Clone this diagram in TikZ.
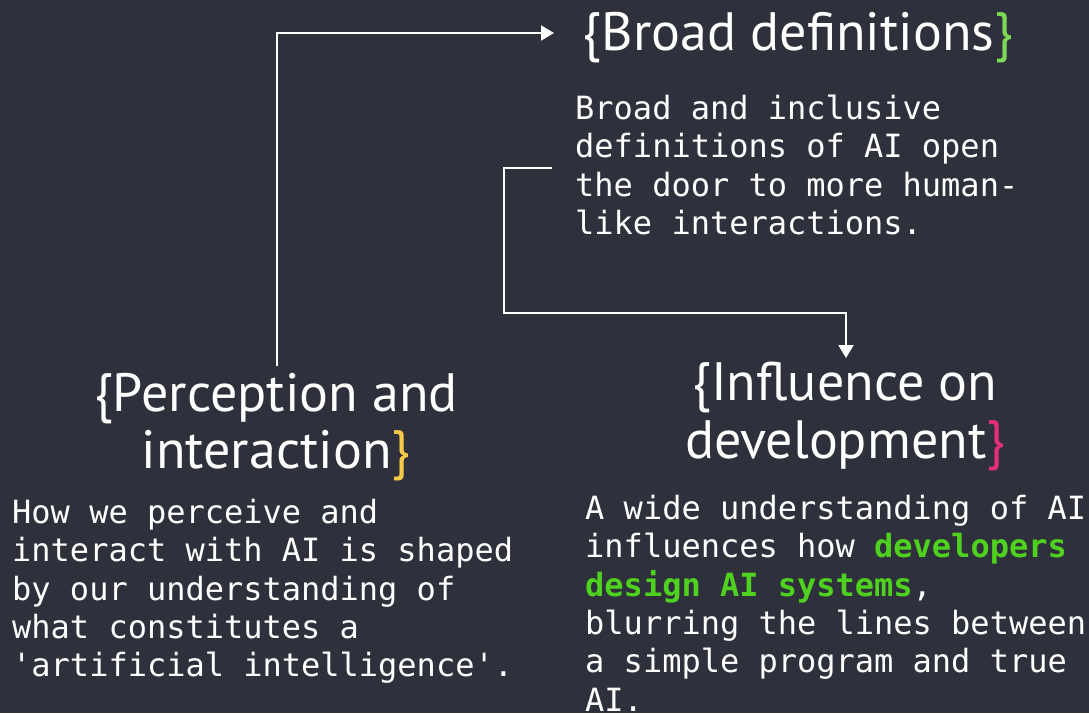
\documentclass[tikz,border=0pt]{standalone}
\usepackage{fontspec}
\setmainfont{PT Sans}
\setmonofont{DejaVu Sans Mono}
\usetikzlibrary{arrows.meta}
\definecolor{bg}{HTML}{2E313B}
\definecolor{fg}{HTML}{FFFFFF}
\definecolor{bgreen}{HTML}{7ED957}
\definecolor{hgreen}{HTML}{4FD11F}
\definecolor{byellow}{HTML}{F7C948}
\definecolor{bpink}{HTML}{E62E7B}
\tikzset{
  titletext/.style={text=fg, inner sep=0pt, align=center, font=\fontsize{54}{57.5}\selectfont},
  bodytext/.style={text=fg, inner sep=0pt, align=left, font=\fontsize{32}{38.3}\selectfont\ttfamily},
  link/.style={draw=fg, line width=2pt, -{Triangle[length=13pt,width=15pt]}}
}
\begin{document}
\begin{tikzpicture}[x=1pt,y=-1pt]
\fill[bg] (0,0) rectangle (1089,713);
\useasboundingbox (0,0) rectangle (1089,713);

\node[titletext, anchor=base] (broad) at (798,50) {\{Broad definitions\textcolor{bgreen}{\}}};
\node[bodytext, anchor=north west] (broadbody) at (575,95) {Broad and inclusive\\definitions of AI open\\the door to more human-\\like interactions.};

\node[titletext, anchor=north] (perc) at (276,373) {\{Perception and\\interaction\textcolor{byellow}{\}}};
\node[bodytext, anchor=north west] (percbody) at (12,499) {How we perceive and\\interact with AI is shaped\\by our understanding of\\what constitutes a\\'artificial intelligence'.};

\node[titletext, anchor=north] (infl) at (845,362) {\{Influence on\\development\textcolor{bpink}{\}}};
\node[bodytext, anchor=north west] (inflbody) at (585,495) {A wide understanding of AI\\influences how \textcolor{hgreen}{\bfseries developers}\\\textcolor{hgreen}{\bfseries design AI systems},\\blurring the lines between\\a simple program and true\\AI.};

\coordinate (c1) at (277,33);
\coordinate (e1) at (554,33);
\draw[link] (277,366) -- (c1) -- (e1);

\coordinate (s2) at (552,168);
\coordinate (c2a) at (504,168);
\coordinate (c2b) at (504,313);
\coordinate (c2c) at (846,313);
\coordinate (e2) at (846,358);
\draw[link] (s2) -- (c2a) -- (c2b) -- (c2c) -- (e2);
\end{tikzpicture}
\end{document}
